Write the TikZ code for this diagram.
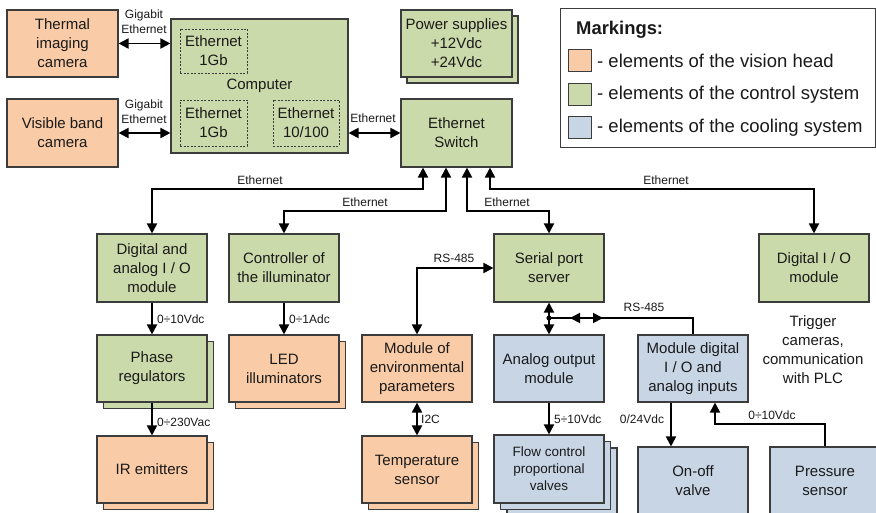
\documentclass[tikz,border=0pt]{standalone}
\usepackage{fontspec}
\setmainfont{Liberation Sans}
\usetikzlibrary{arrows.meta,calc}
\definecolor{cor}{HTML}{F9CBA6}
\definecolor{cgr}{HTML}{CBDAAA}
\definecolor{cbl}{HTML}{C8D5E5}
\definecolor{bord}{HTML}{3C3C3C}
\definecolor{txt}{HTML}{1A1A1A}
\begin{document}
\begin{tikzpicture}[x=1pt,y=-1pt,
  box/.style={draw=bord, line width=1.1pt, minimum width=110pt, minimum height=67pt,
    align=center, font=\fontsize{15}{19}\selectfont, text=txt, inner sep=2pt},
  dbox/.style={draw=bord, line width=0.9pt, dash pattern=on 2pt off 1.5pt,
    align=center, font=\fontsize{15}{19}\selectfont, text=txt, inner sep=1pt},
  lbl/.style={font=\fontsize{12}{15}\selectfont, align=center, inner sep=1pt, text=txt},
  tip/.tip={Triangle[length=10pt,width=10pt]},
  con/.style={line width=1.8pt, -tip},
  con2/.style={line width=1.8pt, tip-tip},
  bus/.style={line width=1.8pt}
]
\useasboundingbox (0,0) rectangle (876,513);
\fill[white] (0,0) rectangle (876,513);

% top row
\node[box, fill=cor, minimum width=111pt] (therm) at (62.5,43.5) {Thermal\\imaging\\camera};
\node[box, fill=cor, minimum width=111pt, minimum height=68pt] (vis) at (62.5,133) {Visible band\\camera};
\node[box, fill=cgr, minimum width=177pt, minimum height=134pt] (comp) at (259.5,86) {Computer};
\node[dbox, minimum width=67pt, minimum height=44pt] (e1) at (213.5,51) {Ethernet\\1Gb};
\node[dbox, minimum width=67pt, minimum height=46pt] (e2) at (213.5,123) {Ethernet\\1Gb};
\node[dbox, minimum width=66pt, minimum height=46pt] (e3) at (306,123) {Ethernet\\10/100};
\node[box, fill=cgr, minimum width=111pt] (powb) at (462.5,49.5) {};
\node[box, fill=cgr, minimum width=111pt] (pow) at (456.5,43.5) {Power supplies\\+12Vdc\\+24Vdc};
\node[box, fill=cgr, minimum width=111pt, minimum height=68pt] (sw) at (456.5,133) {Ethernet\\Switch};

% legend
\node[draw=bord, line width=1pt, minimum width=315pt, minimum height=139pt] (leg) at (717.5,78.5) {};
\node[anchor=west, font=\fontsize{18.4}{20}\selectfont\bfseries, text=txt, inner sep=0pt] (legt) at (576,30) {Markings:};
\node[draw=bord, line width=1pt, fill=cor, minimum width=23pt, minimum height=22pt, inner sep=0pt] (s1) at (579.5,61) {};
\node[draw=bord, line width=1pt, fill=cgr, minimum width=23pt, minimum height=22pt, inner sep=0pt] (s2) at (579.5,95) {};
\node[draw=bord, line width=1pt, fill=cbl, minimum width=23pt, minimum height=22pt, inner sep=0pt] (s3) at (579.5,128) {};
\node[anchor=west, font=\fontsize{18.5}{20}\selectfont, text=txt, inner sep=0pt] (l1) at (597,61) {- elements of the vision head};
\node[anchor=west, font=\fontsize{18.5}{20}\selectfont, text=txt, inner sep=0pt] (l2) at (597,95) {- elements of the control system};
\node[anchor=west, font=\fontsize{18.5}{20}\selectfont, text=txt, inner sep=0pt] (l3) at (597,128) {- elements of the cooling system};

% middle row
\node[box, fill=cgr, minimum height=68pt] (dai) at (152,268) {Digital and\\analog I / O\\module};
\node[box, fill=cgr, minimum height=68pt] (ctl) at (284,268) {Controller of\\the illuminator};
\node[box, fill=cgr, minimum height=68pt] (ser) at (549,268) {Serial port\\server};
\node[box, fill=cgr, minimum height=68pt] (dio) at (814,268) {Digital I / O\\module};

% third row
\node[box, fill=cgr] (phaseb) at (158.5,375) {};
\node[box, fill=cgr] (phase) at (152,368.5) {Phase\\regulators};
\node[box, fill=cor] (ledb) at (290.5,375) {};
\node[box, fill=cor] (led) at (284,368.5) {LED\\illuminators};
\node[box, fill=cor] (env) at (417,368.5) {Module of\\environmental\\parameters};
\node[box, fill=cbl] (aout) at (549,368.5) {Analog output\\module};
\node[box, fill=cbl] (mdio) at (693,368.5) {Module digital\\I / O and\\analog inputs};
\node[font=\fontsize{15}{19}\selectfont, align=center, text=txt] (trig) at (813,350) {Trigger\\cameras,\\communication\\with PLC};

% bottom row
\node[box, fill=cor] (irb) at (158.5,476) {};
\node[box, fill=cor] (ir) at (152,469.5) {IR emitters};
\node[box, fill=cor] (tempb) at (423.5,476) {};
\node[box, fill=cor] (temp) at (417,469.5) {Temperature\\sensor};
\node[box, fill=cbl, minimum height=68pt] (flowc) at (562,482) {};
\node[box, fill=cbl, minimum height=68pt] (flowb) at (555.5,475.5) {};
\node[box, fill=cbl, minimum height=68pt, font=\fontsize{13.5}{17}\selectfont] (flow) at (549,469) {Flow control\\proportional\\valves};
\node[box, fill=cbl] (onoff) at (693,480.5) {On-off\\valve};
\node[box, fill=cbl] (press) at (825,480.5) {Pressure\\sensor};

% helper coordinates
\coordinate (hiY) at (0,189);
\coordinate (loY) at (0,211);
\coordinate (sA) at ([xshift=-33.5pt]sw.south);
\coordinate (sB) at ([xshift=-10.5pt]sw.south);
\coordinate (sC) at ([xshift=10.5pt]sw.south);
\coordinate (sD) at ([xshift=33.5pt]sw.south);
\coordinate (rsY) at (0,318);
\coordinate (jn) at (ser.south |- rsY);
\coordinate (ra) at (570,318);
\coordinate (rb) at (603,318);
\coordinate (mdL) at ([xshift=-22pt]mdio.south);
\coordinate (mdR) at ([xshift=22pt]mdio.south);
\coordinate (prY) at (0,424);

% top connectors
\draw[con2] (therm.east) -- (comp.west |- therm.east);
\draw[con2] (vis.east) -- (comp.west |- vis.east);
\draw[con2] (comp.east |- sw.west) -- (sw.west);
\node[lbl] (g1) at (144,22) {Gigabit\\Ethernet};
\node[lbl] (g2) at (144,112) {Gigabit\\Ethernet};
\node[lbl] (g3) at (373,118) {Ethernet};

% ethernet buses
\draw[con2] (dai.north) |- (sA |- hiY) -- (sA);
\draw[con2] (ctl.north) |- (sB |- loY) -- (sB);
\draw[con2] (ser.north) |- (sC |- loY) -- (sC);
\draw[con2] (dio.north) |- (sD |- hiY) -- (sD);
\node[lbl] (eA) at (260,180) {Ethernet};
\node[lbl] (eB) at (365,202) {Ethernet};
\node[lbl] (eC) at (507,202) {Ethernet};
\node[lbl] (eD) at (666,180) {Ethernet};

% lower connectors
\draw[con] (dai.south) -- (phase.north);
\node[lbl, anchor=west] (v1) at (156,319) {0÷10Vdc};
\draw[con] (ctl.south) -- (led.north);
\node[lbl, anchor=west] (v2) at (288,319) {0÷1Adc};
\draw[con] (phase.south) -- (ir.north);
\node[lbl, anchor=west] (v3) at (156,422) {0÷230Vac};
\draw[con2] (env.north) |- (ser.west);
\node[lbl] (rs1) at (454,258) {RS-485};
\draw[con2] (env.south) -- (temp.north);
\node[lbl, anchor=west] (i2c) at (420,419) {I2C};
\draw[con2] (ser.south) -- (aout.north);
\fill (jn) circle (2.6pt);
\draw[bus] (jn) -| (mdio.north);
\draw[con2] (ra) -- (rb);
\node[lbl] (rs2) at (644,307) {RS-485};
\draw[con] (aout.south) -- (flow.north);
\node[lbl, anchor=west] (v4) at (553,419) {5÷10Vdc};
\draw[con] (mdL) -- (mdL |- onoff.north);
\node[lbl] (v5) at (642,419) {0/24Vdc};
\draw[con] (press.north) |- (mdR |- prY) -- (mdR);
\node[lbl] (v6) at (772,415) {0÷10Vdc};
\end{tikzpicture}
\end{document}
